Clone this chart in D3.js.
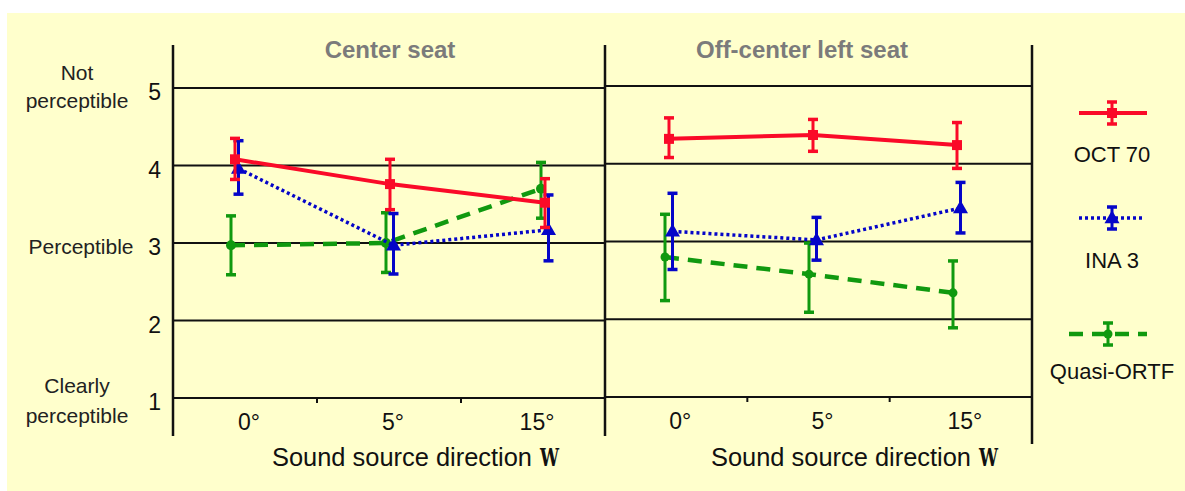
<!DOCTYPE html>
<html><head><meta charset="utf-8">
<script src="https://cdn.jsdelivr.net/npm/d3@7"></script>
<style>body{margin:0;background:#fff}svg{display:block}text{font-family:"Liberation Sans",Arial,sans-serif}</style>
</head><body>
<svg id="c" width="1185" height="491"></svg>
<script>
// ---- data ----
const categories = ["0°", "5°", "15°"];
const panelTitles = ["Center seat", "Off-center left seat"];
const seriesNames = ["OCT 70", "INA 3", "Quasi-ORTF"];
const yTicks = [1, 2, 3, 4, 5];
const yLevelLabels = [[5, ["Not", "perceptible"]], [3, ["Perceptible"]], [1, ["Clearly", "perceptible"]]];
const xAxisTitle = "Sound source direction";
const xAxisSymbol = "W";

// Center seat
const oct70CenterMean = [4.08, 3.76, 3.52];
const oct70CenterLo   = [3.82, 3.43, 3.20];
const oct70CenterHi   = [4.35, 4.08, 3.83];
const ina3CenterMean  = [3.96, 2.97, 3.17];
const ina3CenterLo    = [3.63, 2.60, 2.77];
const ina3CenterHi    = [4.32, 3.38, 3.62];
const ortfCenterMean  = [2.97, 3.00, 3.70];
const ortfCenterLo    = [2.59, 2.62, 3.32];
const ortfCenterHi    = [3.35, 3.39, 4.04];
// Off-center left seat
const oct70OffMean = [4.32, 4.37, 4.24];
const oct70OffLo   = [4.08, 4.16, 3.94];
const oct70OffHi   = [4.59, 4.57, 4.53];
const ina3OffMean  = [3.13, 3.02, 3.43];
const ina3OffLo    = [2.64, 2.76, 3.11];
const ina3OffHi    = [3.62, 3.31, 3.76];
const ortfOffMean  = [2.80, 2.58, 2.34];
const ortfOffLo    = [2.24, 2.09, 1.89];
const ortfOffHi    = [3.35, 2.98, 2.75];

// ---- styles ----
const colors = {"OCT 70": "#fa0a28", "INA 3": "#0505c8", "Quasi-ORTF": "#10990f"};
const dashes = {"OCT 70": null, "INA 3": "3,3", "Quasi-ORTF": "14,9"};
const widths = {"OCT 70": 4, "INA 3": 3.5, "Quasi-ORTF": 4.5};
const xShift = {"OCT 70": 0, "INA 3": 3.5, "Quasi-ORTF": -4};

const panels = [
  {title: panelTitles[0], x0: 173, x1: 605, yr: [398, 88], pr: [235, 545], titleX: 390, axX: 272,
   series: [
     {name: "Quasi-ORTF", m: ortfCenterMean, lo: ortfCenterLo, hi: ortfCenterHi},
     {name: "INA 3", m: ina3CenterMean, lo: ina3CenterLo, hi: ina3CenterHi},
     {name: "OCT 70", m: oct70CenterMean, lo: oct70CenterLo, hi: oct70CenterHi}]},
  {title: panelTitles[1], x0: 605, x1: 1032, yr: [397, 86], pr: [669, 957], titleX: 802, axX: 711,
   series: [
     {name: "Quasi-ORTF", m: ortfOffMean, lo: ortfOffLo, hi: ortfOffHi},
     {name: "INA 3", m: ina3OffMean, lo: ina3OffLo, hi: ina3OffHi},
     {name: "OCT 70", m: oct70OffMean, lo: oct70OffLo, hi: oct70OffHi}]}
];

const svg = d3.select("#c");
svg.append("rect").attr("x", 7).attr("y", 13).attr("width", 1178).attr("height", 478).attr("fill", "#ffffcc");

function marker(g, name, x, y, scale) {
  const c = colors[name];
  if (name === "OCT 70") {
    g.append("rect").attr("x", x - 5).attr("y", y - 5).attr("width", 10).attr("height", 10).attr("fill", c);
  } else if (name === "INA 3") {
    const w = 15, h = 13;
    g.append("path").attr("d", `M${x},${y - h * 0.6}L${x + w / 2},${y + h * 0.4}L${x - w / 2},${y + h * 0.4}Z`).attr("fill", c);
  } else {
    g.append("circle").attr("cx", x).attr("cy", y).attr("r", scale || 5).attr("fill", c);
  }
}
function errBar(g, name, x, yTop, yBot) {
  const c = colors[name];
  g.append("line").attr("x1", x).attr("x2", x).attr("y1", yTop).attr("y2", yBot).attr("stroke", c).attr("stroke-width", 3);
  [yTop, yBot].forEach(yy => g.append("line").attr("x1", x - 5).attr("x2", x + 5).attr("y1", yy).attr("y2", yy)
    .attr("stroke", c).attr("stroke-width", 3.5));
}

panels.forEach((p, pi) => {
  const y = d3.scaleLinear().domain([1, 5]).range(p.yr);
  const band = d3.scaleBand().domain(categories).range([p.x0, p.x1]);
  const pt = d3.scalePoint().domain(categories).range(p.pr);
  const g = svg.append("g");

  g.selectAll(".grid").data(yTicks).join("line")
    .attr("x1", p.x0).attr("x2", p.x1).attr("y1", d => y(d)).attr("y2", d => y(d))
    .attr("stroke", "#111").attr("stroke-width", 2);
  g.append("line").attr("x1", p.x0).attr("x2", p.x0).attr("y1", 45).attr("y2", 436).attr("stroke", "#111").attr("stroke-width", 2.5);
  if (pi === 1) g.append("line").attr("x1", p.x1).attr("x2", p.x1).attr("y1", 45).attr("y2", 444).attr("stroke", "#111").attr("stroke-width", 2.5);
  categories.slice(1).forEach(cat => g.append("line").attr("x1", band(cat)).attr("x2", band(cat))
    .attr("y1", y(1)).attr("y2", y(1) + 5).attr("stroke", "#111").attr("stroke-width", 2));
  g.selectAll(".xl").data(categories).join("text")
    .attr("x", d => band(d) + band.bandwidth() / 2 + 4).attr("y", y(1) + 32)
    .attr("text-anchor", "middle").attr("font-size", 23).attr("fill", "#111").text(d => d);
  g.append("text").attr("x", p.titleX).attr("y", 58).attr("text-anchor", "middle")
    .attr("font-size", 24).attr("font-weight", "bold").attr("fill", "#7b7b7b").text(p.title);
  g.append("text").attr("x", p.axX).attr("y", 466).attr("font-size", 25).attr("fill", "#111")
    .attr("textLength", 260).attr("lengthAdjust", "spacingAndGlyphs").text(xAxisTitle);
  g.append("text").attr("x", p.axX + 268).attr("y", 466).attr("font-size", 24).attr("font-weight", "bold")
    .style("font-family", "'DejaVu Serif', 'Liberation Serif', serif").attr("fill", "#111")
    .attr("textLength", 19).attr("lengthAdjust", "spacingAndGlyphs").text(xAxisSymbol);

  p.series.forEach(s => {
    const xs = i => pt(categories[i]) + xShift[s.name];
    const line = d3.line().x((d, i) => xs(i)).y(d => y(d));
    g.append("path").attr("d", line(s.m)).attr("fill", "none").attr("stroke", colors[s.name])
      .attr("stroke-width", widths[s.name]).attr("stroke-dasharray", dashes[s.name]);
    s.m.forEach((v, i) => {
      errBar(g, s.name, xs(i), y(s.hi[i]), y(s.lo[i]));
      marker(g, s.name, xs(i), y(v), pi === 1 ? 4.5 : 5);
    });
  });

  if (pi === 0) {
    g.selectAll(".yl").data(yTicks).join("text")
      .attr("x", 161).attr("y", d => y(d) + 12).attr("text-anchor", "end")
      .attr("font-size", 23).attr("fill", "#111").text(d => d);
    yLevelLabels.forEach(([lv, lines]) => {
      const n = lines.length;
      lines.forEach((t, k) => {
        const by = n === 1 ? y(lv) + 11 : (lv === 5 ? y(lv) - 8 + k * 28 : y(lv) - 5 + k * 30);
        g.append("text").attr("x", lv === 3 ? 81 : 77).attr("y", by).attr("text-anchor", "middle")
          .attr("font-size", 21).attr("fill", "#222").text(t);
      });
    });
  }
});

const legendY = {"OCT 70": 113, "INA 3": 218, "Quasi-ORTF": 334};
const legendLabelY = {"OCT 70": 162, "INA 3": 268, "Quasi-ORTF": 379};
const lg = svg.append("g");
seriesNames.forEach(name => {
  const ly = legendY[name];
  const x1 = name === "Quasi-ORTF" ? 1069 : 1079, x2 = name === "INA 3" ? 1143 : 1147;
  const mx = name === "Quasi-ORTF" ? 1108 : 1112;
  lg.append("line").attr("x1", x1).attr("x2", x2).attr("y1", ly).attr("y2", ly)
    .attr("stroke", colors[name]).attr("stroke-width", widths[name]).attr("stroke-dasharray", dashes[name]);
  errBar(lg, name, mx, ly - 11, ly + 11);
  marker(lg, name, mx, ly, 4.5);
  lg.append("text").attr("x", 1112).attr("y", legendLabelY[name]).attr("text-anchor", "middle")
    .attr("font-size", 22).attr("fill", "#111").text(name);
});
</script>
</body></html>
